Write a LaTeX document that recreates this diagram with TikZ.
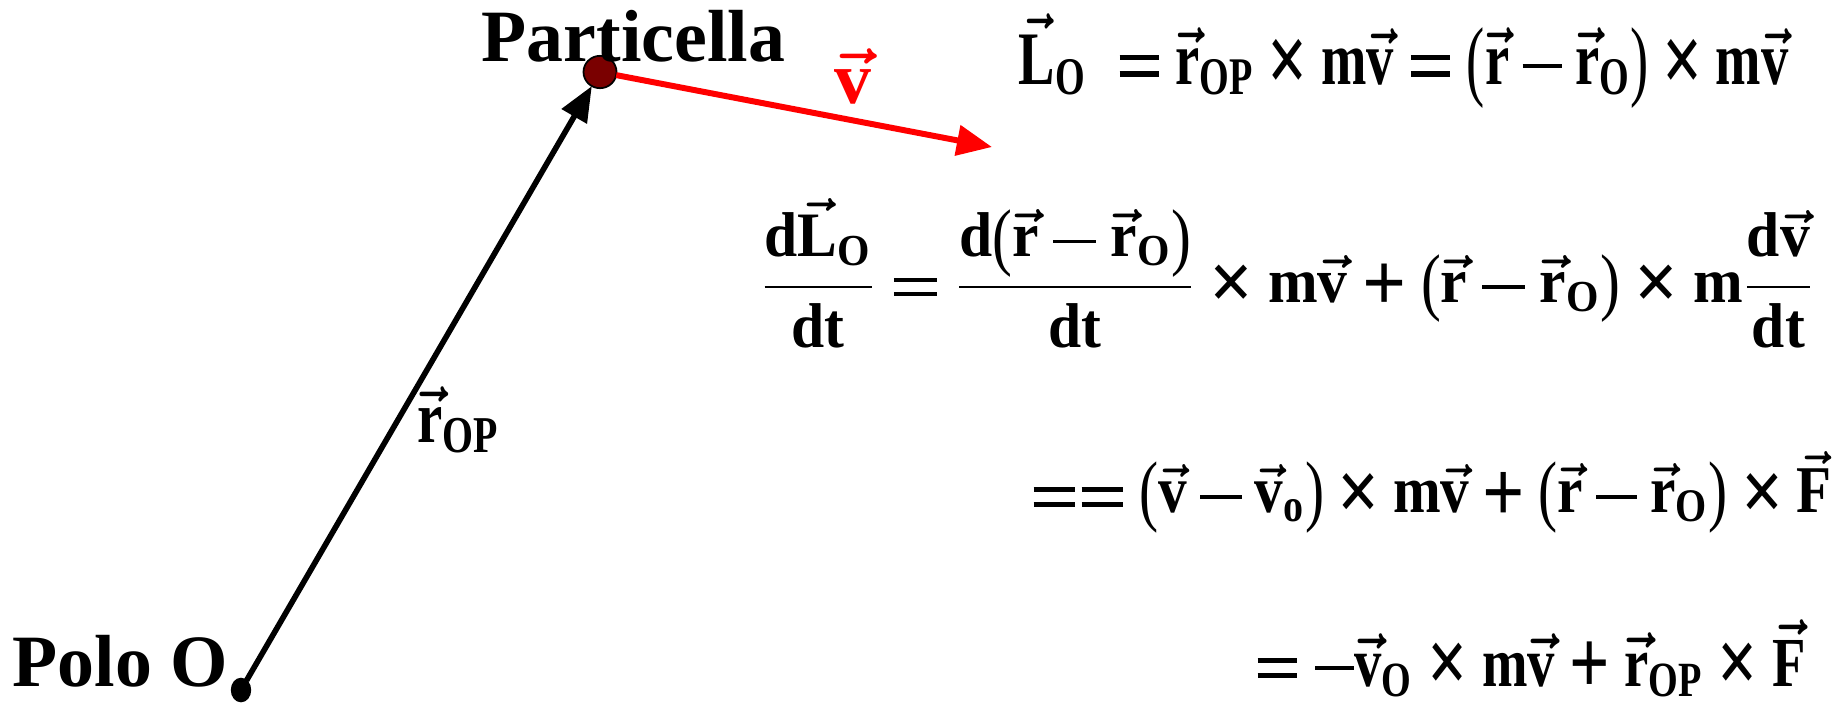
\documentclass[tikz,border=0pt]{standalone}
\usepackage{amsmath}
\usepackage{graphicx}
\usepackage{fontspec}
\setmainfont{Liberation Serif}
\usetikzlibrary{arrows.meta,shapes.geometric}
\definecolor{particle}{RGB}{122,0,0}
\newcommand{\T}[1]{\text{\bfseries #1}}
\newcommand{\V}[1]{\vec{\T{#1}}}
\newcommand{\bsym}[1]{\vcenter{\hbox{\scalebox{1.3}{\bfseries #1}}}}
\newcommand{\eqbar}{\vcenter{\hbox{\vbox{\hrule width .72em height .07em \kern .15em \hrule width .72em height .07em}}}}
\newcommand{\minbar}{\vcenter{\hbox{\rule{0.72em}{0.055em}}}}
\newcommand{\eqs}{\mathrel{\eqbar}}
\newcommand{\tms}{\mathbin{\bsym{×}}}
\newcommand{\mns}{\mathbin{\minbar}}
\newcommand{\pls}{\mathbin{\bsym{+}}}
\newcommand{\LP}{\mathopen{\raisebox{-0.07em}{\mdseries\scalebox{1}[1.18]{(}}}}
\newcommand{\RP}{\mathclose{\raisebox{-0.07em}{\mdseries\scalebox{1}[1.18]{)}}}}
\newcommand{\PR}[1]{\LP#1\RP}
\tikzset{
  lbl/.style={inner sep=0pt, font=\fontsize{21}{25}\selectfont\bfseries},
  eqn/.style={inner sep=0pt, font=\bfseries\boldmath},
  dot/.style={ellipse, draw=black, inner sep=0pt, outer sep=0pt},
  posvec/.style={line width=1.6pt, -{Triangle[length=10pt,width=8pt]}},
  velvec/.style={red, line width=1.7pt, -{Triangle[length=10pt,width=8.5pt]}}
}
\begin{document}
\begin{tikzpicture}[x=0.2845pt, y=-0.2845pt]
\useasboundingbox (0,0) rectangle (1840,706);
% points
\node[dot, fill=particle, line width=0.5pt, minimum width=9.4pt, minimum height=9.2pt] (P) at (600,72) {};
\node[dot, fill=black, minimum width=5.4pt, minimum height=6.6pt] (O) at (241,690) {};
\coordinate (vtip) at (992,147);
% vectors
\draw[posvec] (O) -- (P);
\draw[velvec] (P) -- (vtip);
% labels
\node[lbl, anchor=base west] (part) at (481,61) {Particella};
\node[lbl, anchor=base west] (polo) at (12,686) {Polo O};
\node[lbl, anchor=base west] (rop) at (417,442)
  {\resizebox{23.3pt}{\height}{$\boldmath\V{r}_{\T{OP}}$}};
\node[lbl, anchor=base, text=red] (vl) at (853,103) {$\boldmath\V{v}$};
% equations
\node[eqn, anchor=base west, font=\fontsize{21.5}{26}\selectfont\bfseries\boldmath] (eq1) at (1018,84)
  {\resizebox{219pt}{\height}{$\V{L}_{\T{O}}\;\eqs \V{r}_{\T{OP}} \tms \T{m}\V{v} \eqs \PR{\V{r} \mns \V{r}_{\T{O}}} \tms \T{m}\V{v}$}};
\node[eqn, anchor=base west, font=\fontsize{18}{22}\selectfont\bfseries\boldmath] (eq2) at (760,302)
  {\resizebox{299.6pt}{\height}{$\dfrac{\T{d}\V{L}_{\T{O}}}{\T{dt}} \eqs \dfrac{\T{d}\PR{\V{r} \mns \V{r}_{\T{O}}}}{\T{dt}} \tms \T{m}\V{v} \pls \PR{\V{r} \mns \V{r}_{\T{O}}} \tms \T{m}\dfrac{\T{d}\V{v}}{\T{dt}}$}};
\node[eqn, anchor=base west, font=\fontsize{19}{23}\selectfont\bfseries\boldmath] (eq3) at (1033,512)
  {\resizebox{227pt}{\height}{$\mathrel{\eqbar\mkern2mu\eqbar}\PR{\V{v} \mns \V{v}_{\T{o}}} \tms \T{m}\V{v} \pls \PR{\V{r} \mns \V{r}_{\T{O}}} \tms \V{F}$}};
\node[eqn, anchor=base west, font=\fontsize{20}{24}\selectfont\bfseries\boldmath] (eq4) at (1257,686)
  {\resizebox{156pt}{\height}{$\eqs \mathord{\minbar}\V{v}_{\T{O}} \tms \T{m}\V{v} \pls \V{r}_{\T{OP}} \tms \V{F}$}};
\end{tikzpicture}
\end{document}
